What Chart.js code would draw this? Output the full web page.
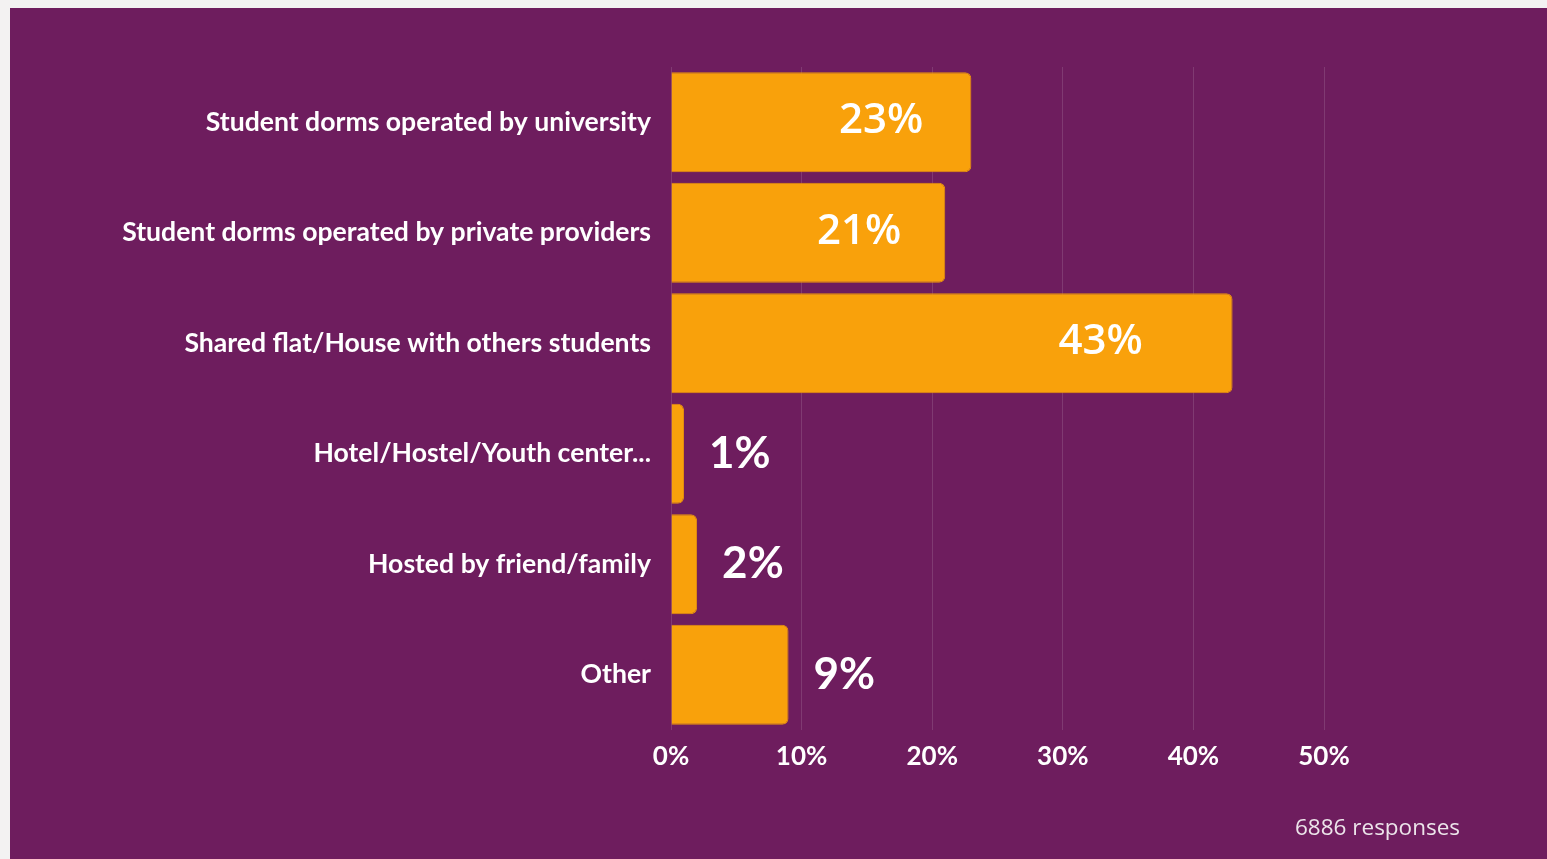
<!DOCTYPE html>
<html>
<head>
<meta charset="utf-8">
<script src="https://cdn.jsdelivr.net/npm/chart.js@4"></script>
<style>
  html, body { margin: 0; padding: 0; background: #f3f2f2; }
  body { width: 1547px; height: 859px; position: relative; overflow: hidden; }
  #panel { position: absolute; left: 10px; top: 8px; right: 0; bottom: 0; background: #6e1d5e; }
  #wrap { position: absolute; left: 0; top: 0; width: 1547px; height: 859px; }
  #note { position: absolute; left: 1295px; top: 811px; font: 400 22.5px 'Open Sans', sans-serif; color: #ece4ea; }
</style>
</head>
<body>
<div id="panel"></div>
<div id="wrap"><canvas id="chart"></canvas></div>
<div id="note">6886 responses</div>
<script>
// categories and shares (%)
const categories = [
  'Student dorms operated by university',
  'Student dorms operated by private providers',
  'Shared flat/House with others students',
  'Hotel/Hostel/Youth center...',
  'Hosted by friend/family',
  'Other',
];
const shares = [23, 21, 43, 1, 2, 9];
const xTicks = [0, 10, 20, 30, 40, 50];

const BAR_COLOR = '#f9a10b';
const TEXT_COLOR = '#ffffff';

// value labels: inside the bar for big values, just after it for small ones
const valueLabels = {
  id: 'valueLabels',
  afterDatasetsDraw(chart) {
    const { ctx } = chart;
    const xs = chart.scales.x;
    const meta = chart.getDatasetMeta(0);
    ctx.save();
    ctx.fillStyle = TEXT_COLOR;
    ctx.textBaseline = 'middle';
    meta.data.forEach((bar, i) => {
      const v = shares[i];
      const label = v + '%';
      if (v > 10) {
        ctx.font = "600 42px 'Open Sans', sans-serif";
        ctx.textAlign = 'right';
        ctx.fillText(label, xs.getPixelForValue(v * 0.84), bar.y - 1);
      } else {
        ctx.font = "700 44px 'Lato', sans-serif";
        ctx.textAlign = 'left';
        ctx.fillText(label, bar.x + 25, bar.y);
      }
    });
    ctx.restore();
  },
};

new Chart(document.getElementById('chart'), {
  type: 'bar',
  data: {
    labels: categories,
    datasets: [{
      data: shares,
      backgroundColor: BAR_COLOR,
      borderColor: '#e8930c',
      borderWidth: 1,
      borderRadius: 6,
      borderSkipped: 'start',
      categoryPercentage: 1,
      barPercentage: 0.904,
    }],
  },
  options: {
    indexAxis: 'y',
    responsive: true,
    maintainAspectRatio: false,
    animation: false,
    layout: { padding: { top: 67, right: 223, left: 0, bottom: 0 } },
    plugins: {
      legend: { display: false },
      tooltip: { enabled: false },
    },
    scales: {
      x: {
        min: 0,
        max: 50,
        afterBuildTicks: (scale) => { scale.ticks = xTicks.map(v => ({ value: v })); },
        afterFit: (scale) => { scale.height = 859 - 730; },
        grid: { color: 'rgba(255,255,255,0.13)', lineWidth: 1, drawTicks: false },
        border: { display: false },
        ticks: {
          color: TEXT_COLOR,
          padding: 11,
          font: { family: "'Lato', sans-serif", size: 26, weight: '700' },
          callback: (v) => v + '%',
        },
      },
      y: {
        afterFit: (scale) => { scale.width = 671; },
        grid: { display: false, drawTicks: false },
        border: { display: false },
        ticks: {
          color: TEXT_COLOR,
          padding: 20,
          font: { family: "'Lato', sans-serif", size: 26.6, weight: '700' },
        },
      },
    },
  },
  plugins: [valueLabels],
});
</script>
</body>
</html>
